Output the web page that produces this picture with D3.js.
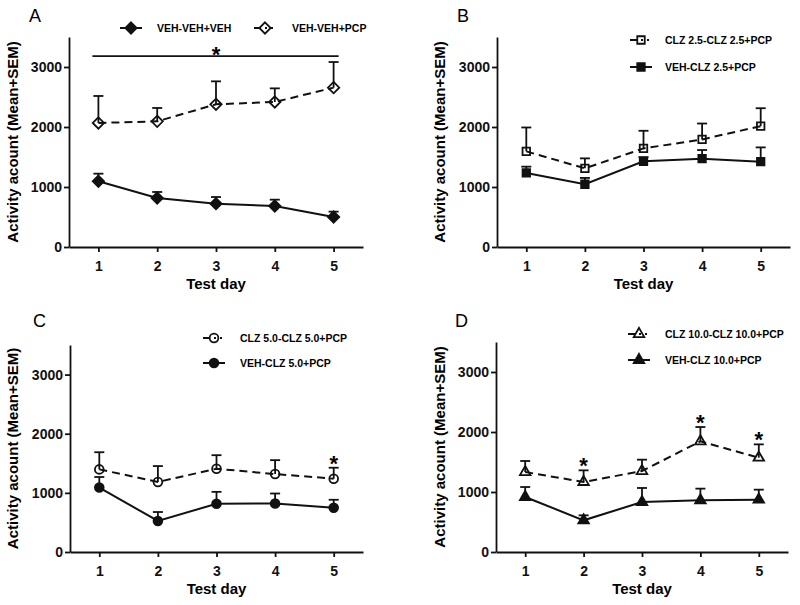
<!DOCTYPE html>
<html>
<head>
<meta charset="utf-8">
<script src="https://cdn.jsdelivr.net/npm/d3@7"></script>
<style>
  body { margin: 0; background: #fff; }
  svg { display: block; font-family: "Liberation Sans", Arial, sans-serif; }
</style>
</head>
<body>
<div class="chart"></div>
<script>
// ---------------------- donnees ----------------------
const days = [1, 2, 3, 4, 5]
const yTicks = [0, 1000, 2000, 3000]
const xTitle = "Test day"
const yTitle = "Activity acount (Mean+SEM)"

// A
const vehVehVeh = [1095, 817, 722, 683, 500]
const vehVehVehSem = [127, 100, 111, 106, 89]
const vehVehPcp = [2067, 2094, 2378, 2417, 2656]
const vehVehPcpSem = [450, 223, 383, 227, 427]
// B
const clz25 = [1594, 1311, 1643, 1793, 2014]
const clz25Sem = [398, 166, 294, 265, 299]
const vehClz25 = [1234, 1046, 1428, 1472, 1422]
const vehClz25Sem = [105, 105, 70, 144, 238]
// C
const clz50 = [1397, 1184, 1408, 1318, 1240]
const clz50Sem = [290, 269, 229, 235, 185]
const vehClz50 = [1089, 525, 816, 821, 749]
const vehClz50Sem = [179, 151, 201, 168, 134]
// D
const clz100 = [1333, 1167, 1350, 1844, 1572]
const clz100Sem = [184, 194, 189, 239, 222]
const vehClz100 = [917, 528, 833, 861, 872]
const vehClz100Sem = [166, 83, 234, 195, 167]

// etoiles (jours significatifs) et barre de signification du panneau A
const starsC = [5]
const starsD = [2, 4, 5]
const barA = [1, 5, 3180]

const WIDTH = 800
const HEIGHT = 605

const svg = d3.select(".chart").append("svg")
  .attr("width", WIDTH).attr("height", HEIGHT)

// symboles perso (losange, carre, rond, triangle)
const diamond = { draw(ctx, size) { const r = Math.sqrt(size / 2); ctx.moveTo(0, -r); ctx.lineTo(r, 0); ctx.lineTo(0, r); ctx.lineTo(-r, 0); ctx.closePath() } }
const square = { draw(ctx, size) { const r = Math.sqrt(size) / 2; ctx.rect(-r, -r, 2 * r, 2 * r) } }
const circle = { draw(ctx, size) { const r = Math.sqrt(size / Math.PI); ctx.moveTo(r, 0); ctx.arc(0, 0, r, 0, 2 * Math.PI) } }
const triangle = { draw(ctx, size) { const s = Math.sqrt(size * 4 / Math.sqrt(3)); const h = s * Math.sqrt(3) / 2; ctx.moveTo(0, -h * 2 / 3); ctx.lineTo(s / 2, h / 3); ctx.lineTo(-s / 2, h / 3); ctx.closePath() } }

const panels = [
  { letter: "A", box: [69, 363, 247, 37], letterPos: [29, 22], titleX: 18,
    legend: [[120, 28], [254, 28]], legendText: [157, 292],
    series: [
      { name: "VEH-VEH+VEH", mean: vehVehVeh, sem: vehVehVehSem, sym: diamond, size: 64, open: false },
      { name: "VEH-VEH+PCP", mean: vehVehPcp, sem: vehVehPcpSem, sym: diamond, size: 64, open: true }
    ], stars: [], bar: barA },
  { letter: "B", box: [497, 790, 247, 37], letterPos: [457, 22], titleX: 445,
    legend: [[630, 40], [630, 67]], legendText: [665, 665],
    series: [
      { name: "CLZ 2.5-CLZ 2.5+PCP", mean: clz25, sem: clz25Sem, sym: square, size: 56, open: true },
      { name: "VEH-CLZ 2.5+PCP", mean: vehClz25, sem: vehClz25Sem, sym: square, size: 56, open: false }
    ], stars: [] },
  { letter: "C", box: [70, 363, 552, 345], letterPos: [33, 327], titleX: 18,
    legend: [[203, 338], [203, 363]], legendText: [240, 240],
    series: [
      { name: "CLZ 5.0-CLZ 5.0+PCP", mean: clz50, sem: clz50Sem, sym: circle, size: 60, open: true },
      { name: "VEH-CLZ 5.0+PCP", mean: vehClz50, sem: vehClz50Sem, sym: circle, size: 60, open: false }
    ], stars: starsC },
  { letter: "D", box: [496, 788, 552, 342], letterPos: [455, 327], titleX: 445,
    legend: [[628, 334], [628, 360]], legendText: [665, 665],
    series: [
      { name: "CLZ 10.0-CLZ 10.0+PCP", mean: clz100, sem: clz100Sem, sym: triangle, size: 48, open: true },
      { name: "VEH-CLZ 10.0+PCP", mean: vehClz100, sem: vehClz100Sem, sym: triangle, size: 48, open: false }
    ], stars: starsD }
]

panels.forEach(function(p) {
  const [left, right, bottom, top] = p.box
  const x = d3.scaleLinear().domain([0.5, 5.5]).range([left, right])
  const y = d3.scaleLinear().domain([0, 3500]).range([bottom, top])
  const g = svg.append("g")

  // axes
  const xAxis = g.append("g").attr("transform", "translate(0," + bottom + ")")
    .call(d3.axisBottom(x).tickValues(days).tickFormat(d3.format("d")).tickSizeInner(5).tickSizeOuter(0).tickPadding(6))
  const yAxis = g.append("g").attr("transform", "translate(" + left + ",0)")
    .call(d3.axisLeft(y).tickValues(yTicks).tickFormat(d3.format("d")).tickSizeInner(5).tickSizeOuter(0).tickPadding(2))
  g.selectAll(".domain, .tick line").attr("stroke", "#111").attr("stroke-width", 1.8)
  g.selectAll(".tick text").attr("font-size", 14).attr("font-weight", "bold").attr("fill", "#111")
  xAxis.selectAll(".tick text").attr("dy", "0.9em")

  // titres
  g.append("text").attr("x", (left + right) / 2).attr("y", bottom + 42)
    .attr("text-anchor", "middle").attr("font-size", 15).attr("font-weight", "bold").text(xTitle)
  g.append("text").attr("transform", "translate(" + p.titleX + "," + (bottom + top) / 2 + ") rotate(-90)")
    .attr("text-anchor", "middle").attr("font-size", 15).attr("font-weight", "bold").text(yTitle)
  g.append("text").attr("x", p.letterPos[0]).attr("y", p.letterPos[1])
    .attr("font-size", 18).text(p.letter)

  const line = d3.line().x(function(d, i) { return x(days[i]) }).y(function(d) { return y(d) })

  p.series.forEach(function(s) {
    // barres d'erreur (seulement vers le haut)
    const err = g.append("g").attr("stroke", "#111").attr("stroke-width", 1.8)
    s.mean.forEach(function(m, i) {
      const top = y(m + s.sem[i])
      err.append("line").attr("x1", x(days[i])).attr("x2", x(days[i])).attr("y1", y(m)).attr("y2", top)
      err.append("line").attr("x1", x(days[i]) - 5).attr("x2", x(days[i]) + 5).attr("y1", top).attr("y2", top)
    })
    g.append("path").datum(s.mean).attr("d", line).attr("fill", "none")
      .attr("stroke", "#111").attr("stroke-width", 2)
      .attr("stroke-dasharray", s.open ? "8,5" : null)
    g.selectAll(null).data(s.mean).enter().append("path")
      .attr("transform", function(d, i) { return "translate(" + x(days[i]) + "," + y(d) + ")" })
      .attr("d", d3.symbol(s.sym, s.size))
      .attr("fill", s.open ? "none" : "#111").attr("stroke", "#111").attr("stroke-width", 1.8)
  })

  // legende
  p.series.forEach(function(s, k) {
    const [lx, ly] = p.legend[k]
    const lg = g.append("g")
    lg.append("line").attr("x1", lx).attr("x2", lx + 22).attr("y1", ly).attr("y2", ly)
      .attr("stroke", "#111").attr("stroke-width", 2).attr("stroke-dasharray", s.open ? "7,4,2,4,2" : null)
    lg.append("path").attr("transform", "translate(" + (lx + 11) + "," + ly + ")")
      .attr("d", d3.symbol(s.sym, s.size))
      .attr("fill", s.open ? "none" : "#111").attr("stroke", "#111").attr("stroke-width", 1.8)
    lg.append("text").attr("x", p.legendText[k]).attr("y", ly + 4)
      .attr("font-size", 10.5).attr("font-weight", "bold").text(s.name)
  })

  // etoiles de signification
  const open = p.series.find(function(s) { return s.open })
  p.stars.forEach(function(d) {
    const i = days.indexOf(d)
    g.append("text").attr("x", x(d)).attr("y", y(open.mean[i] + open.sem[i]) + 3)
      .attr("text-anchor", "middle").attr("font-size", 22).attr("font-weight", "bold").text("*")
  })
  if (p.bar) {
    g.append("line").attr("x1", x(p.bar[0]) - 6).attr("x2", x(p.bar[1]) + 5)
      .attr("y1", y(p.bar[2])).attr("y2", y(p.bar[2])).attr("stroke", "#111").attr("stroke-width", 1.8)
    g.append("text").attr("x", x((p.bar[0] + p.bar[1]) / 2)).attr("y", y(p.bar[2]) + 6)
      .attr("text-anchor", "middle").attr("font-size", 22).attr("font-weight", "bold").text("*")
  }
})
</script>
</body>
</html>
